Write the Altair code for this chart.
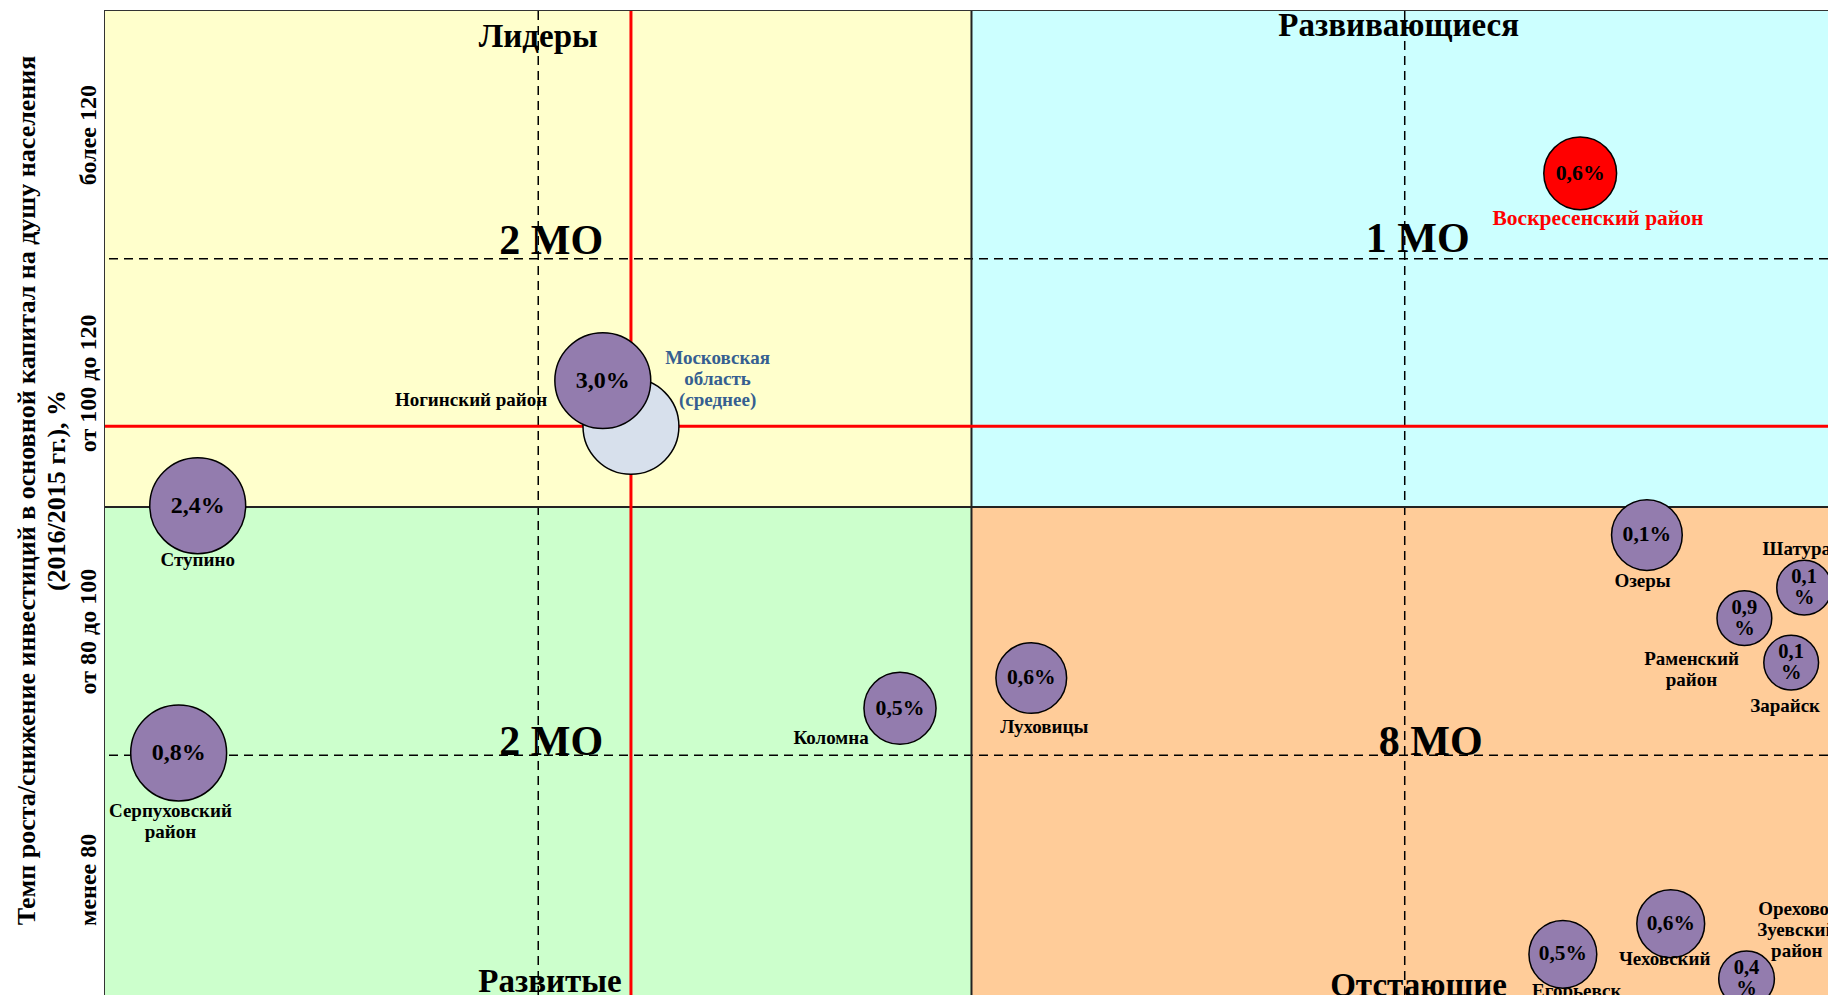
import altair as alt
import pandas as pd

# ---------------- data ----------------
# positions are in "band" units: x 0..4 (four columns), y 0..4 (four rows, 0 = bottom)
names = ["Московская область (среднее)", "Воскресенский район", "Ногинский район", "Ступино",
         "Серпуховский район", "Коломна", "Луховицы", "Озеры", "Шатура", "Раменский район",
         "Зарайск", "Егорьевск", "Чеховский", "Орехово-Зуевский район"]
kind = ["avg", "focus", "mo", "mo", "mo", "mo", "mo", "mo", "mo", "mo", "mo", "mo", "mo", "mo"]
x_pos = [1.214, 3.405, 1.149, 0.214, 0.170, 1.835, 2.138, 3.559, 3.922, 3.784, 3.892, 3.365, 3.614, 3.789]
y_pos = [2.325, 3.344, 2.509, 2.005, 1.009, 1.189, 1.311, 1.887, 1.675, 1.552, 1.373, 0.198, 0.321, 0.099]
bubble = [9.2, 5.3, 9.2, 9.2, 9.2, 5.2, 5.0, 5.0, 3.0, 3.0, 3.0, 4.6, 4.6, 3.1]
share = ["", "0,6%", "3,0%", "2,4%", "0,8%", "0,5%", "0,6%", "0,1%", "0,1\n%", "0,9\n%", "0,1\n%",
         "0,5%", "0,6%", "0,4\n%"]
label_text = ["Московская\nобласть\n(среднее)", "Воскресенский район", "Ногинский район", "Ступино",
              "Серпуховский\nрайон", "Коломна", "Луховицы", "Озеры", "Шатура", "Раменский\nрайон",
              "Зарайск", "Егорьевск", "Чеховский", "Орехово-\nЗуевский\nрайон"]
label_x = [1.414, 3.446, 0.845, 0.214, 0.151, 1.676, 2.168, 3.549, 3.905, 3.662, 3.878, 3.397, 3.600, 3.905]
label_y = [2.514, 3.160, 2.429, 1.788, 0.733, 1.071, 1.113, 1.703, 1.830, 1.344, 1.198, 0.052, 0.179, 0.297]

quad_names = ["Лидеры", "Развивающиеся", "Развитые", "Отстающие"]
quad_x0 = [0, 2, 0, 2]
quad_x1 = [2, 4, 2, 4]
quad_y0 = [2, 2, 0, 0]
quad_y1 = [4, 4, 2, 2]
quad_name_x = [1.000, 2.986, 1.027, 3.032]
quad_name_y = [3.892, 3.939, 0.085, 0.071]
quad_count = ["2 МО", "1 МО", "2 МО", "8 МО"]
quad_count_x = [1.030, 3.030, 1.030, 3.060]
quad_count_y = [3.071, 3.080, 1.052, 1.052]

band_lines = [1, 3]        # dashed band boundaries
quadrant_line = [2]        # solid quadrant boundary
avg_x = [1.214]            # Moscow region average
avg_y = [2.325]

tick_vals = [0.5, 1.5, 2.5, 3.5]
tick_labels = ["менее 80", "от 80 до 100", "от 100 до 120", "более 120"]
y_title = ["Темп роста/снижение инвестиций в основной капитал на душу населения",
           "(2016/2015 гг.), %"]

# ---------------- styling ----------------
FONT = "Liberation Serif"
XDOM = [0, 3.977]
YDOM = [0.034, 3.998]
W, H = 1723, 984
PX_Y = H / (YDOM[1] - YDOM[0])
LH = 21  # line height of multi-line texts (px)
xs = alt.Scale(domain=XDOM, nice=False, zero=False)
ys = alt.Scale(domain=YDOM, nice=False, zero=False)

pts = pd.DataFrame(dict(name=names, kind=kind, x=x_pos, y=y_pos, bubble=bubble, share=share,
                        label=label_text, lx=label_x, ly=label_y))
# Vega puts the first line of a multi-line text at the anchor: shift so the block is centred
pts["ty"] = pts["y"] + pts["share"].str.count("\n") * LH / 2 / PX_Y
pts["lyc"] = pts["ly"] + pts["label"].str.count("\n") * LH / 2 / PX_Y

quads = pd.DataFrame(dict(name=quad_names, x0=quad_x0, x1=quad_x1, y0=quad_y0, y1=quad_y1,
                          nx=quad_name_x, ny=quad_name_y, count=quad_count,
                          cx=quad_count_x, cy=quad_count_y))

expr = "''"
for v, t in zip(reversed(tick_vals), reversed(tick_labels)):
    expr = f"datum.value == {v} ? '{t}' : ({expr})"

AXIS_STYLE = dict(labelAngle=270, labelAlign="center", labelBaseline="middle", labelPadding=17,
                  ticks=False, tickSize=0, domain=False, grid=False, labelFont=FONT,
                  labelFontWeight="bold", labelFontSize=24, labelColor="black",
                  labelOverlap=False, labelFlush=False, titleFont=FONT, titleFontWeight="bold",
                  titleFontSize=26, titleColor="black", titleAngle=270, titleAlign="center",
                  titleBaseline="middle", titleX=-79, titleY=479, titleLineHeight=30)

yaxis = alt.Axis(values=tick_vals, labelExpr=expr, title=y_title, **AXIS_STYLE)


def X(f):
    return alt.X(f, scale=xs, axis=None)


def Y(f):
    return alt.Y(f, scale=ys, axis=yaxis)


rects = alt.Chart(quads).mark_rect(clip=True).encode(
    x=X("x0:Q"), x2="x1:Q", y=Y("y0:Q"), y2="y1:Q",
    color=alt.Color("name:N", legend=None,
                    scale=alt.Scale(domain=quad_names,
                                    range=["#FFFFCC", "#CCFFFF", "#CCFFCC", "#FFCC99"])),
)

qnames = alt.Chart(quads).mark_text(font=FONT, fontWeight="bold", fontSize=33, color="black",
                                    baseline="middle").encode(
    x=X("nx:Q"), y=Y("ny:Q"), text="name:N")

qcounts = alt.Chart(quads).mark_text(font=FONT, fontWeight="bold", fontSize=42, color="black",
                                     baseline="middle").encode(
    x=X("cx:Q"), y=Y("cy:Q"), text="count:N")

dash_v = alt.Chart(pd.DataFrame(dict(v=band_lines))).mark_rule(
    color="black", strokeWidth=1.5, strokeDash=[9, 6]).encode(x=X("v:Q"))
dash_h = alt.Chart(pd.DataFrame(dict(v=band_lines))).mark_rule(
    color="black", strokeWidth=1.5, strokeDash=[9, 6]).encode(y=Y("v:Q"))
solid_v = alt.Chart(pd.DataFrame(dict(v=quadrant_line))).mark_rule(
    color="#222222", strokeWidth=2).encode(x=X("v:Q"))
solid_h = alt.Chart(pd.DataFrame(dict(v=quadrant_line))).mark_rule(
    color="#222222", strokeWidth=2).encode(y=Y("v:Q"))
red_v = alt.Chart(pd.DataFrame(dict(v=avg_x))).mark_rule(
    color="#FF0000", strokeWidth=3).encode(x=X("v:Q"))
red_h = alt.Chart(pd.DataFrame(dict(v=avg_y))).mark_rule(
    color="#FF0000", strokeWidth=3).encode(y=Y("v:Q"))

bubbles = alt.Chart(pts).mark_circle(opacity=1, stroke="black", strokeWidth=1.5).encode(
    x=X("x:Q"), y=Y("y:Q"),
    size=alt.Size("bubble:Q", legend=None, scale=alt.Scale(domain=[0, 10], range=[0, 10000])),
    fill=alt.Fill("kind:N", legend=None,
                  scale=alt.Scale(domain=["avg", "focus", "mo"],
                                  range=["#D7E0EC", "#FF0000", "#937CAE"])),
)

bub_text = alt.Chart(pts).mark_text(font=FONT, fontWeight="bold", color="black",
                                    baseline="middle", lineBreak="\n", lineHeight=LH).encode(
    x=X("x:Q"), y=Y("ty:Q"),
    text="share:N",
    size=alt.Size("bubble:Q", legend=None, scale=alt.Scale(domain=[3, 9.2], range=[20.5, 24])),
)

labels = alt.Chart(pts).mark_text(font=FONT, fontWeight="bold", baseline="middle",
                                  lineBreak="\n", lineHeight=LH).encode(
    x=X("lx:Q"), y=Y("lyc:Q"),
    text="label:N",
    color=alt.Color("kind:N", legend=None,
                    scale=alt.Scale(domain=["avg", "focus", "mo"],
                                    range=["#365F91", "#FF0000", "#000000"])),
    size=alt.condition(alt.datum.kind == "focus", alt.value(21.5), alt.value(19)),
)

chart = alt.layer(
    rects, qnames, qcounts, dash_v, dash_h, solid_v, solid_h, red_v, red_h,
    bubbles, bub_text, labels
).resolve_scale(
    color="independent", fill="independent", size="independent"
).properties(
    width=W, height=H,
    padding={"left": 97, "top": 3, "right": 0, "bottom": 0},
    autosize=alt.AutoSizeParams(type="none"),
    background="white",
).configure_view(
    stroke="#333333", strokeWidth=2
).configure_axisY(
    labelFont=FONT, labelFontWeight="bold", labelFontSize=24, labelColor="black",
    titleFont=FONT, titleFontWeight="bold", titleFontSize=26, titleColor="black",
)

chart.save("out.html", embed_options={"renderer": "svg", "actions": False})
